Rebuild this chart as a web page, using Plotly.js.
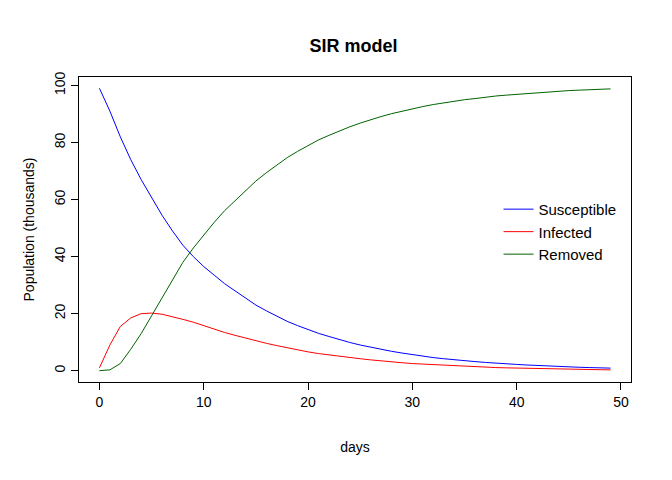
<!DOCTYPE html>
<html><head><meta charset="utf-8">
<script src="https://cdn.plot.ly/plotly-3.0.1.min.js"></script>
<style>body{margin:0;background:#fff}#plot{width:672px;height:480px}</style>
</head><body><div id="plot"></div>
<script>
const days = Array.from({length: 50}, (_, i) => i);
const susceptible = [99,91,82,74,67,60.5,54.5,49,44,40,36.5,33.5,30.5,28,25.5,23,21,19,17.3,15.8,14.4,13.1,12,10.9,9.9,9,8.2,7.5,6.8,6.2,5.6,5.1,4.6,4.2,3.8,3.5,3.2,2.9,2.6,2.4,2.2,2,1.8,1.6,1.5,1.3,1.2,1.1,1,0.9];
const infected = [1,9,15.5,18.5,20,20.2,19.8,19,18,17,15.8,14.5,13.4,12.4,11.4,10.5,9.6,8.8,8,7.3,6.6,6,5.5,5,4.6,4.2,3.8,3.4,3.1,2.8,2.5,2.3,2.1,1.9,1.7,1.5,1.4,1.2,1.1,1,0.9,0.8,0.7,0.6,0.55,0.5,0.45,0.4,0.35,0.3];
const removed = [0,0.3,2.5,7.5,13,19.3,25.7,32,38,43,47.7,52,56.1,59.6,63.1,66.5,69.4,72.2,74.7,76.9,79,80.9,82.5,84.1,85.5,86.8,88,89.1,90.1,91,91.9,92.6,93.3,93.9,94.5,95,95.4,95.9,96.3,96.6,96.9,97.2,97.5,97.8,97.95,98.2,98.35,98.5,98.65,98.8];

const line = (y, name, color) => ({type: 'scatter', mode: 'lines', x: days, y, name, line: {color, width: 1}});
const axis = {
  showgrid: false, zeroline: false, showline: true, mirror: true, linecolor: '#000', linewidth: 1,
  ticks: 'outside', ticklen: 7, tickcolor: '#000', tickfont: {size: 14, color: '#000'},
};
Plotly.newPlot('plot', [
  line(susceptible, 'Susceptible', '#0000ff'),
  line(infected, 'Infected', '#ff0000'),
  line(removed, 'Removed', '#006400'),
], {
  width: 672, height: 480,
  paper_bgcolor: '#fff', plot_bgcolor: '#fff',
  font: {family: 'Liberation Sans, Arial, sans-serif', color: '#000', size: 14},
  margin: {l: 79, r: 41, t: 77, b: 98},
  title: {text: '<b>SIR model</b>', x: 0.526, xanchor: 'center', y: 0.917, font: {size: 18}},
  xaxis: {...axis, range: [-1.96, 50.96], tickvals: [0, 10, 20, 30, 40, 50],
    title: {text: 'days', standoff: 33, font: {size: 14}}},
  yaxis: {...axis, range: [-3.96, 102.96], tickvals: [0, 20, 40, 60, 80, 100], tickangle: -90,
    title: {text: 'Population (thousands)', standoff: 14, font: {size: 14}}},
  legend: {x: 0.76, y: 0.62, xanchor: 'left', yanchor: 'top', bgcolor: 'rgba(0,0,0,0)',
    font: {size: 15}, tracegroupgap: 0},
}, {displayModeBar: false});
</script></body></html>
